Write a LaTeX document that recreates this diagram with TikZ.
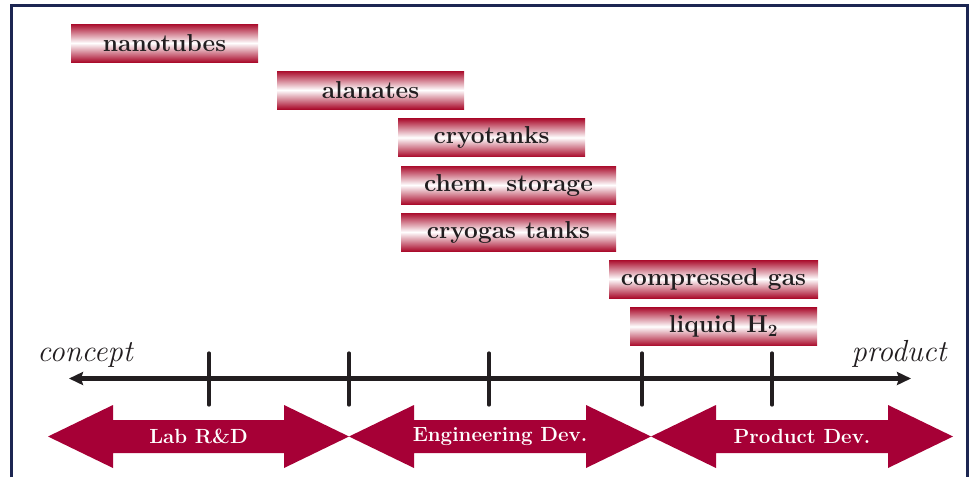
\documentclass[tikz,border=0pt]{standalone}
\usepackage{tikz}
\usetikzlibrary{arrows.meta}

\definecolor{boxred}{RGB}{170,12,44}
\definecolor{phasered}{RGB}{166,0,54}
\definecolor{framenavy}{RGB}{28,38,82}
\definecolor{inkgray}{RGB}{34,30,32}

\tikzset{
  tech/.style={rectangle, inner sep=0pt, minimum height=38pt,
    top color=boxred, bottom color=boxred, middle color=white,
    text=inkgray, font=\fontsize{24.5}{24.5}\selectfont\bfseries},
  phase/.style={fill=phasered},
  phaselabel/.style={text=white, font=\fontsize{20.5}{20.5}\selectfont\bfseries},
  endlabel/.style={anchor=base, text=inkgray, font=\fontsize{30.5}{30.5}\selectfont\itshape},
  tick/.style={line width=3.2pt, line cap=round, draw=inkgray}
}

\begin{document}
\begin{tikzpicture}[x=1pt, y=-1pt]
      \useasboundingbox (0,0) rectangle (969,477);
      \draw[framenavy, line width=2.8pt] (11.5,477) -- (11.5,5.5) -- (967.5,5.5) -- (967.5,477);

      \node[tech, minimum width=187pt] (nanotubes) at (164.5,43) {nanotubes};
      \node[tech, minimum width=187pt] (alanates) at (370.5,90) {alanates};
      \node[tech, minimum width=187pt] (cryotanks) at (491.5,137.5) {cryotanks};
      \node[tech, minimum width=215pt] (chem) at (508.5,185) {chem. storage};
      \node[tech, minimum width=215pt] (cryogas) at (508.5,232) {cryogas tanks};
      \node[tech, minimum width=209pt] (compressed) at (713.5,279) {compressed gas};
      \node[tech, minimum width=187pt] (liquid) at (723.5,326.5) {liquid H\textsubscript{2}};

      \node[endlabel] (concept) at (85,361) {concept};
      \node[endlabel] (product) at (899,361) {product};

      \coordinate (axL) at (69,378.5);
      \coordinate (axR) at (911,378.5);
      \draw[line width=4.5pt, draw=inkgray, {Stealth[length=14pt,width=13pt,inset=2pt]}-{Stealth[length=14pt,width=13pt,inset=2pt]}] (axL) -- (axR);

      \draw[tick] (209,353) -- (209,405);
      \draw[tick] (349,353) -- (349,405);
      \draw[tick] (489,353) -- (489,405);
      \draw[tick] (642,353) -- (642,405);
      \draw[tick] (772,353) -- (772,405);

      \fill[phase] (48,436.5) -- (113,405) -- (113,420) -- (284,420) -- (284,405) -- (349,436.5)
        -- (284,468) -- (284,453) -- (113,453) -- (113,468) -- cycle;
      \node[phaselabel] (labrd) at (198.5,436.5) {Lab R\&D};

      \fill[phase] (349,436.5) -- (414,405) -- (414,420) -- (586,420) -- (586,405) -- (651,436.5)
        -- (586,468) -- (586,453) -- (414,453) -- (414,468) -- cycle;
      \node[phaselabel] (engdev) at (500,436.5) {Engineering Dev.};

      \fill[phase] (651,436.5) -- (716,405) -- (716,420) -- (888,420) -- (888,405) -- (953,436.5)
        -- (888,468) -- (888,453) -- (716,453) -- (716,468) -- cycle;
      \node[phaselabel] (proddev) at (802,436.5) {Product Dev.};
    \end{tikzpicture}
\end{document}
